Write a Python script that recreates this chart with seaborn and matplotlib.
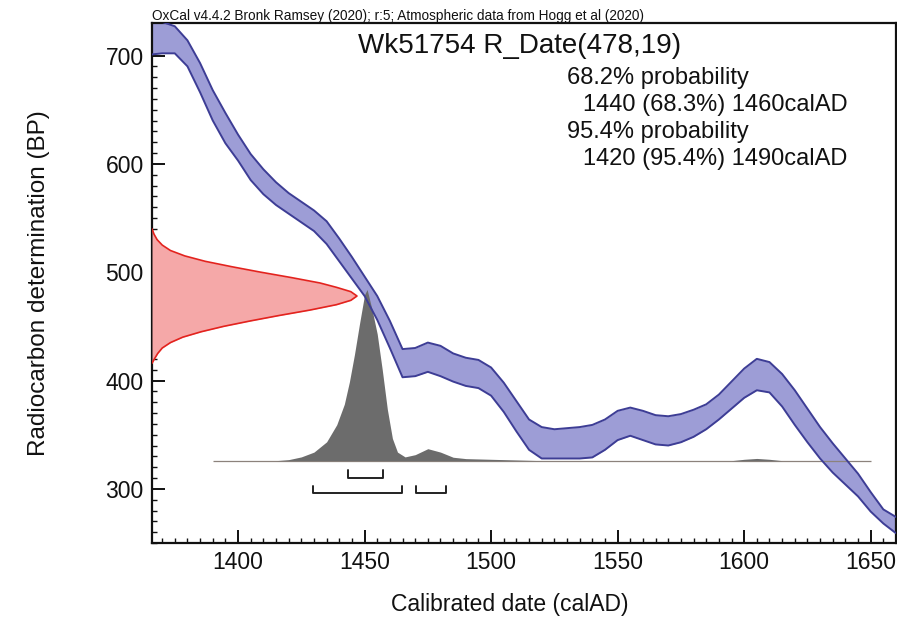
import matplotlib

matplotlib.use("Agg")
import matplotlib.pyplot as plt
import pandas as pd
import seaborn as sns
from matplotlib.ticker import MultipleLocator


# IntCal20 band (BP, upper and lower edge)
CAL_YEARS = [1366, 1370, 1375, 1380, 1385, 1390, 1395, 1400, 1405, 1410,
             1415, 1420, 1425, 1430, 1435, 1440, 1445, 1450, 1455, 1460,
             1465, 1470, 1475, 1480, 1485, 1490, 1495, 1500, 1505, 1510,
             1515, 1520, 1525, 1530, 1535, 1540, 1545, 1550, 1555, 1560,
             1565, 1570, 1575, 1580, 1585, 1590, 1595, 1600, 1605, 1610,
             1615, 1620, 1625, 1630, 1635, 1640, 1645, 1650, 1655, 1660]
CAL_HI = [734, 731, 727, 714, 693, 668, 647, 627, 609, 595,
          583, 573, 565, 557, 547, 531, 514, 496, 478, 455,
          429, 430, 435, 432, 425, 421, 419, 412, 398, 381,
          364, 357, 355, 356, 357, 359, 364, 372, 375, 372,
          368, 367, 369, 373, 378, 387, 399, 411, 420, 417,
          406, 391, 374, 357, 342, 328, 314, 297, 281, 274]
CAL_LO = [701, 702, 702, 690, 666, 640, 619, 603, 585, 572,
          562, 554, 546, 538, 526, 510, 494, 478, 456, 430,
          403, 404, 408, 404, 399, 395, 393, 386, 371, 353,
          336, 328, 328, 328, 328, 329, 336, 345, 349, 345,
          341, 340, 343, 348, 355, 364, 374, 384, 391, 389,
          376, 359, 343, 328, 315, 304, 293, 279, 268, 259]

# measured date R_Date(478,19), relative probability by BP
RDATE_BP = [416, 420, 425, 430, 435, 440, 445, 450, 455, 460, 465, 470, 474,
            478, 482, 486, 490, 495, 500, 505, 510, 515, 520, 525, 530, 535, 540]
RDATE_PROB = [0.0, 0.012, 0.028, 0.05, 0.09, 0.15, 0.24, 0.35, 0.48, 0.62,
              0.77, 0.90, 0.97, 1.0, 0.97, 0.90, 0.82, 0.68, 0.53, 0.39,
              0.26, 0.16, 0.09, 0.05, 0.025, 0.01, 0.0]

# calibrated probability by calendar year
POST_YEARS = [1390, 1415, 1420, 1425, 1430, 1435, 1439, 1442, 1444, 1446,
              1448, 1450, 1451, 1453, 1455, 1457, 1459, 1461, 1463, 1466,
              1470, 1475, 1480, 1485, 1490, 1500, 1510, 1520, 1595, 1600,
              1605, 1610, 1615, 1650]
POST_PROB = [0, 0, 0.006, 0.022, 0.05, 0.11, 0.21, 0.33, 0.46, 0.62,
             0.80, 0.97, 1.0, 0.88, 0.74, 0.53, 0.30, 0.13, 0.05, 0.022,
             0.035, 0.07, 0.05, 0.02, 0.012, 0.008, 0.004, 0, 0, 0.008,
             0.013, 0.008, 0, 0]

RANGE_68 = [(1443.5, 1457.3)]
RANGE_95 = [(1429.7, 1464.6), (1470.5, 1482.3)]

X_TICKS = [1400, 1450, 1500, 1550, 1600, 1650]
Y_TICKS = [300, 400, 500, 600, 700]

HEADER = "OxCal v4.4.2 Bronk Ramsey (2020); r:5; Atmospheric data from Hogg et al (2020)"
TITLE = "Wk51754 R_Date(478,19)"
SUMMARY = [
    ("68.2% probability", False),
    ("1440 (68.3%) 1460calAD", True),
    ("95.4% probability", False),
    ("1420 (95.4%) 1490calAD", True),
]


def setup_style() -> None:
    sns.set_theme(style="ticks")
    plt.rcParams["font.family"] = ["Liberation Sans", "DejaVu Sans"]
    plt.rcParams["axes.linewidth"] = 1.6
    plt.rcParams["text.color"] = "#111111"
    plt.rcParams["axes.labelcolor"] = "#111111"


def main() -> None:
    setup_style()
    fig = plt.figure(figsize=(8.97, 6.22), dpi=100)
    ax = fig.add_axes([152 / 897, 79 / 622, 744 / 897, 520 / 622])
    x0, x1 = 1366, 1660
    ax.set_xlim(x0, x1)
    ax.set_ylim(250, 730)

    cal = pd.DataFrame({"year": CAL_YEARS, "hi": CAL_HI, "lo": CAL_LO})
    rdate = pd.DataFrame({"bp": RDATE_BP, "prob": RDATE_PROB})
    rdate["x"] = x0 + rdate["prob"] * 81
    post = pd.DataFrame({"year": POST_YEARS, "prob": POST_PROB})
    base = 326
    post["y"] = base + post["prob"] * 158

    # calibration curve
    ax.fill_between(cal["year"], cal["lo"], cal["hi"], color="#9d9dd6", lw=0, zorder=2)

    # measured date on the y axis
    ax.fill_betweenx(rdate["bp"], x0, rdate["x"], color="#f5a8a8", lw=0, zorder=3)
    sns.lineplot(data=rdate, x="x", y="bp", orient="y", sort=False,
                 color="#e3231e", lw=1.2, ax=ax, zorder=4)

    # calibrated distribution
    ax.hlines(base, min(POST_YEARS), max(POST_YEARS), color="#8c827c", lw=0.9, zorder=4)
    ax.fill_between(post["year"], base, post["y"], color="#6c6c6c", lw=0, zorder=5)

    for col in ["hi", "lo"]:
        sns.lineplot(data=cal, x="year", y=col, color="#3d3d95", lw=1.4, ax=ax, zorder=6)

    # range brackets
    for ranges, yb in [(RANGE_68, 310), (RANGE_95, 296)]:
        for a, b in ranges:
            ax.plot([a, a, b, b], [yb + 7, yb, yb, yb + 7], color="#222222", lw=1.4, zorder=6)

    ax.xaxis.set_major_locator(plt.FixedLocator(X_TICKS))
    ax.yaxis.set_major_locator(plt.FixedLocator(Y_TICKS))
    ax.xaxis.set_minor_locator(MultipleLocator(5))
    ax.yaxis.set_minor_locator(MultipleLocator(10))
    ax.tick_params(which="major", direction="in", length=9.5, width=1.4,
                   labelsize=16.5, pad=6, colors="#111111")
    ax.tick_params(which="minor", direction="in", length=3.5, width=1.0, colors="#111111")
    for side in ["top", "right", "left", "bottom"]:
        ax.spines[side].set_visible(True)
        ax.spines[side].set_color("#111111")

    ax.set_xlabel("Calibrated date (calAD)", fontsize=16.5)
    ax.xaxis.set_label_coords((510 - 152) / 744, -0.097)
    ax.set_ylabel("Radiocarbon determination (BP)", fontsize=17.5, labelpad=40)

    fig.text(152 / 897, 1 - 20 / 622, HEADER, fontsize=9.8, va="baseline", ha="left")
    fig.text(520 / 897, 1 - 46 / 622, TITLE, fontsize=20, va="center", ha="center")
    for i, (line, indent) in enumerate(SUMMARY):
        x = 583 if indent else 567
        fig.text(x / 897, 1 - (78 + i * 27) / 622, line, fontsize=17, va="center", ha="left")

    fig.savefig("out.png", dpi=100)
    plt.close(fig)


if __name__ == "__main__":
    main()
